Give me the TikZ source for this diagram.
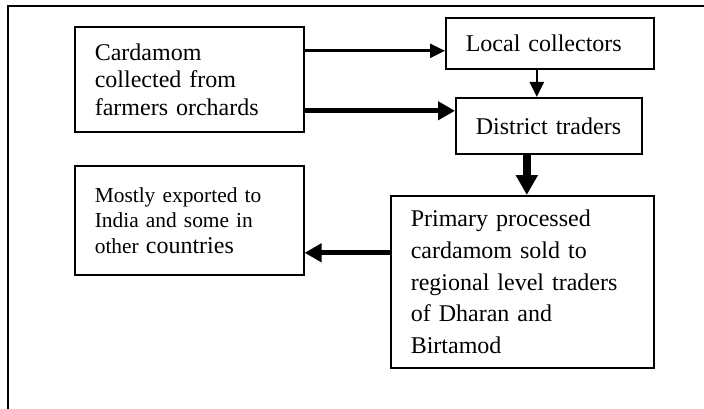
\documentclass[tikz,border=0pt]{standalone}
\usepackage{fontspec}
\setmainfont{Liberation Serif}
\usetikzlibrary{arrows.meta}

\begin{document}
\begin{tikzpicture}[
  x=1pt, y=-1pt,
  stage/.style={draw, rectangle, line width=1.6pt, anchor=north west, align=left,
    inner xsep=20pt, inner ysep=0pt, font=\fontsize{24}{27.5}\selectfont},
  thin flow/.style={line width=2.6pt, -{Triangle[length=15pt, width=14pt]}},
  thick flow/.style={line width=5pt, -{Triangle[length=17pt, width=18pt]}},
  heavy flow/.style={line width=8.5pt, -{Triangle[length=20pt, width=21pt]}}
]
\useasboundingbox (0,0) rectangle (704,409);

% Outer frame (left and top only)
\draw[line width=2pt] (8,409) -- (8,6) -- (704,6);

% Boxes
\node[stage, text width=189pt, minimum height=105pt] (cardamom) at (74,26)
  {Cardamom\\collected from\\farmers orchards};
\node[stage, text width=168pt, minimum height=51pt] (local) at (445,17)
  {Local collectors};
\node[stage, text width=146pt, minimum height=56pt] (district) at (455,97)
  {District traders};
\node[stage, text width=189pt, minimum height=109pt,
  font=\fontsize{21.4}{25.5}\selectfont] (exported) at (74,165)
  {Mostly exported to\\India and some in\\other {\fontsize{24}{25.5}\selectfont countries}};
\node[stage, text width=223pt, minimum height=172pt,
  font=\fontsize{24}{31.7}\selectfont] (primary) at (390,195)
  {Primary processed\\cardamom sold to\\regional level traders\\of Dharan and\\Birtamod};

% Arrow ends
\coordinate (lc in) at ([yshift=-7.5pt]local.west);
\coordinate (dt in) at ([yshift=15pt]district.west);
\coordinate (lc out) at ([xshift=-13pt]local.south);
\coordinate (dt out) at ([xshift=-22pt]district.south);
\coordinate (pr out) at ([yshift=29pt]primary.west);

% Flows
\draw[thin flow] (cardamom.east |- lc in) -- (lc in);
\draw[thick flow] (cardamom.east |- dt in) -- (dt in);
\draw[thin flow] (lc out) -- (lc out |- district.north);
\draw[heavy flow] (dt out) -- (dt out |- primary.north);
\draw[thick flow] (pr out) -- (exported.east |- pr out);
\end{tikzpicture}
\end{document}
